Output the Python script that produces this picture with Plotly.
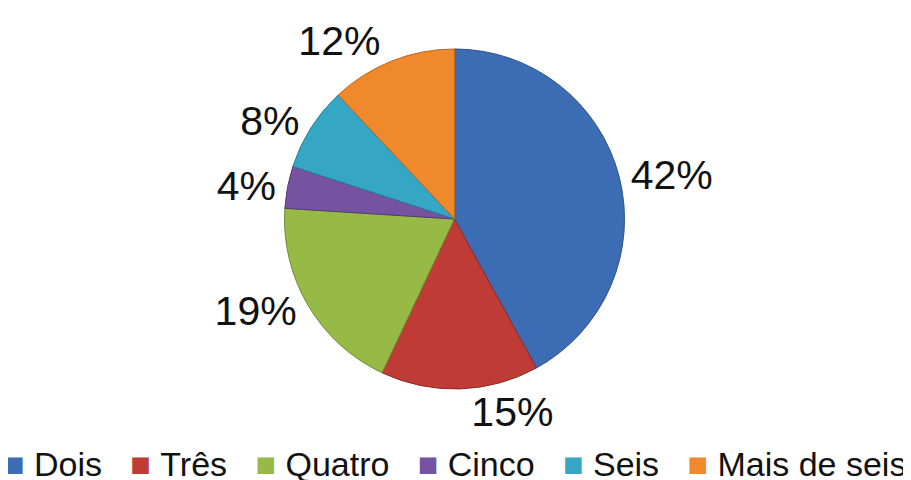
import plotly.graph_objects as go

categories = ["Dois", "Três", "Quatro", "Cinco", "Seis", "Mais de seis"]
values = [42, 15, 19, 4, 8, 12]
colors = ["#3C6DB4", "#BE3B36", "#97BA46", "#7653A0", "#36A6C5", "#F0892B"]
line_colors = ["#2B5089", "#8E2A26", "#6E8A30", "#553A78", "#277C94", "#B8661E"]

FONT = "Liberation Sans, Arial, sans-serif"

fig = go.Figure(go.Pie(
    labels=categories,
    values=values,
    sort=False,
    direction="clockwise",
    rotation=0,
    marker=dict(colors=colors, line=dict(color=line_colors, width=1)),
    texttemplate="%{value}%",
    textposition="outside",
    textfont=dict(size=41, color="#111111", family=FONT),
    hoverinfo="label+percent",
    showlegend=False,
    domain=dict(x=[0, 1], y=[0, 1]),
))

# Legend row built from the category names and slice colours
nbsp = "\u00a0"
legend_items = [
    f"<span style='color:{c}'>■</span>{nbsp}{cat}" for cat, c in zip(categories, colors)
]
legend_text = (nbsp * 3).join(legend_items)

fig.add_annotation(
    text=legend_text,
    xref="paper", yref="paper",
    x=0.5, y=-0.222,
    xanchor="center", yanchor="middle",
    showarrow=False,
    font=dict(size=34, color="#111111", family=FONT),
)

fig.update_layout(
    width=911,
    height=480,
    paper_bgcolor="white",
    plot_bgcolor="white",
    margin=dict(l=0, r=1, t=41, b=99),
    font=dict(family=FONT, color="#111111"),
)

fig.write_html("out.html")
